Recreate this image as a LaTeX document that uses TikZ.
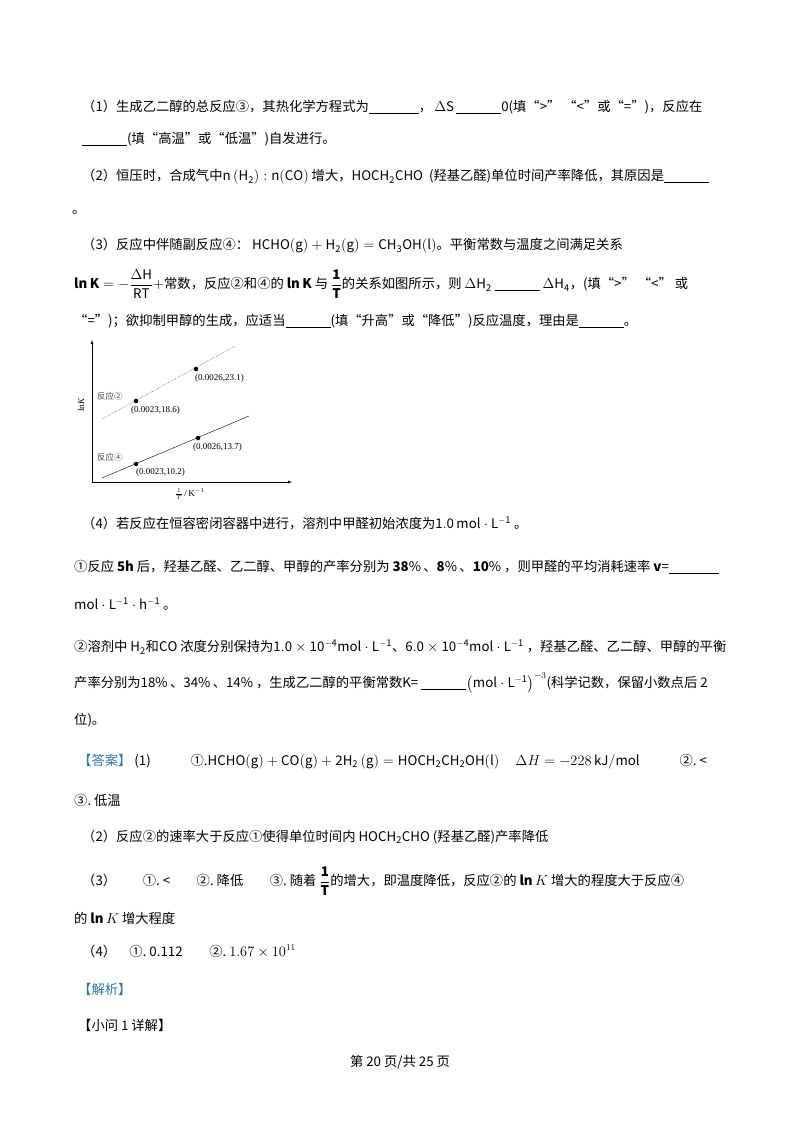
\documentclass[tikz,border=0pt]{standalone}
\usepackage{fontspec}
\setmainfont{Noto Sans CJK SC}
\newfontfamily\serif{Liberation Serif}
\usepackage{amsmath}
\newcommand{\bl}[1]{\rule[-2pt]{#1pt}{0.6pt}}
\begin{document}
\begin{tikzpicture}[x=1pt,y=-1pt,
 t/.style={anchor=west,inner sep=0pt,font=\fontsize{13.3}{15}\selectfont},
 s/.style={anchor=west,inner sep=0pt,font=\fontsize{9}{10}\selectfont\serif},
 c/.style={anchor=west,inner sep=0pt,font=\fontsize{8.5}{10}\selectfont\color{black!70}},
 dot/.style={circle,fill,inner sep=1.6pt}]
\useasboundingbox (0,0) rectangle (800,1132);
\node[t] (l1) at (82,107) {（1）生成乙二醇的总反应③，其热化学方程式为\bl{50}，\,$\Delta\mathrm{S}$\,\bl{45}0(填“>”\ “<”或“=”)，反应在};
\node[t] (l2) at (82,139) {\bl{45}(填“高温”或“低温”)自发进行。};
\node[t] (l3) at (82,177) {（2）恒压时，合成气中$\mathrm{n}\left(\mathrm{H_2}\right):\mathrm{n(CO)}$\ 增大，$\mathrm{HOCH_2CHO}$\ \ (羟基乙醛)单位时间产率降低，其原因是\bl{45}};
\node[t] (l4) at (72,212) {。};
\node[t] (l5) at (82,246) {（3）反应中伴随副反应④：\ $\mathrm{HCHO(g)+H_2(g)=CH_3OH(l)}$。平衡常数与温度之间满足关系};
\node[t] (l6) at (74,284) {$\mathbf{ln\,K}=-\dfrac{\Delta\mathrm{H}}{\mathrm{RT}}+$常数，反应②和④的\ $\mathbf{ln\,K}$\ 与\ $\dfrac{\mathbf 1}{\mathbf T}$的关系如图所示，则\ $\Delta\mathrm{H_2}$\ \bl{45}\ $\Delta\mathrm{H_4}$，(填“>”\ “<”\ 或};
\node[t] (l7) at (74,321) {“=”)；欲抑制甲醇的生成，应适当\bl{45}(填“升高”或“降低”)反应温度，理由是\bl{45}。};
% graph
\coordinate (O) at (92,482);
\coordinate (Y) at (92,340);
\coordinate (X) at (292,482);
\draw[-latex] (O) -- (Y);
\draw[-latex] (O) -- (X);
\coordinate (a1) at (102,419); \coordinate (a2) at (235,346);
\coordinate (b1) at (102,478); \coordinate (b2) at (249,416);
\draw[densely dotted] (a1) -- (a2);
\draw (b1) -- (b2);
\node[dot] (p1) at (136,401) {};
\node[dot] (p2) at (196,369) {};
\node[dot] (p3) at (136,464) {};
\node[dot] (p4) at (198,438) {};
\node[s] at (131,410) {(0.0023,18.6)};
\node[s] at (195,378) {(0.0026,23.1)};
\node[s] at (136,472) {(0.0023,10.2)};
\node[s] at (193,447) {(0.0026,13.7)};
\node[c] at (97,396) {反应②};
\node[c] at (97,457) {反应④};
\node[s,rotate=90,anchor=center] at (81,405) {ln\textit{K}};
\node[s,anchor=center] at (190,494) {$\frac{1}{T}$\,/\,K$^{-1}$};
% part 4
\node[t] (l8) at (82,523) {（4）若反应在恒容密闭容器中进行，溶剂中甲醛初始浓度为$\mathrm{1.0\,mol\cdot L^{-1}}$\ 。};
\node[t] (l9) at (74,567) {①反应\ $\mathbf{5h}$\ 后，羟基乙醛、乙二醇、甲醇的产率分别为\ $\mathbf{38\%\,\text{、}8\%\,\text{、}10\%}$\ ，则甲醛的平均消耗速率\ $\mathbf{v}$=\bl{50}};
\node[t] (l10) at (74,604) {$\mathrm{mol\cdot L^{-1}\cdot h^{-1}}$\ 。};
\node[t] (l11) at (74,647) {②溶剂中\ $\mathrm{H_2}$和$\mathrm{CO}$\ 浓度分别保持为$\mathrm{1.0\times10^{-4}mol\cdot L^{-1}\text{、}6.0\times10^{-4}mol\cdot L^{-1}}$\ ，羟基乙醛、乙二醇、甲醇的平衡};
\node[t] (l12) at (74,683) {产率分别为$\mathrm{18\%\,\text{、}34\%\,\text{、}14\%}$\ ，生成乙二醇的平衡常数K=\ \bl{45}$\left(\mathrm{mol\cdot L^{-1}}\right)^{-3}$(科学记数，保留小数点后\ 2};
\node[t] (l13) at (74,720) {位)。};
\node[t] (l14) at (78,762) {\textcolor[HTML]{2E75B6}{【答案】}\ (1)\qquad\quad ①.$\mathrm{HCHO(g)+CO(g)+2H_2\left(g\right)=HOCH_2CH_2OH(l)}$\quad\ $\Delta H=-228\,\mathrm{kJ/mol}$\qquad\quad ②.\ <};
\node[t] (l15) at (74,800) {③.\ 低温};
\node[t] (l16) at (82,837) {（2）反应②的速率大于反应①使得单位时间内\ $\mathrm{HOCH_2CHO}$\ (羟基乙醛)产率降低};
\node[t] (l17) at (82,881) {（3）\qquad ①.\ <\qquad ②.\ 降低\qquad ③.\ 随着\ $\dfrac{\mathbf 1}{\mathbf T}$的增大，即温度降低，反应②的\ $\mathbf{ln}\,K$\ 增大的程度大于反应④};
\node[t] (l18) at (74,918) {的\ $\mathbf{ln}\,K$\ 增大程度};
\node[t] (l19) at (82,951) {（4）\quad ①.\ 0.112\qquad ②.\ $1.67\times10^{11}$};
\node[t] (l20) at (78,989) {\textcolor[HTML]{2E75B6}{【解析】}};
\node[t] (l21) at (78,1025) {【小问\ 1\ 详解】};
\node[t,anchor=center] (ft) at (400,1062) {第\ 20\ 页/共\ 25\ 页};
\end{tikzpicture}
\end{document}
